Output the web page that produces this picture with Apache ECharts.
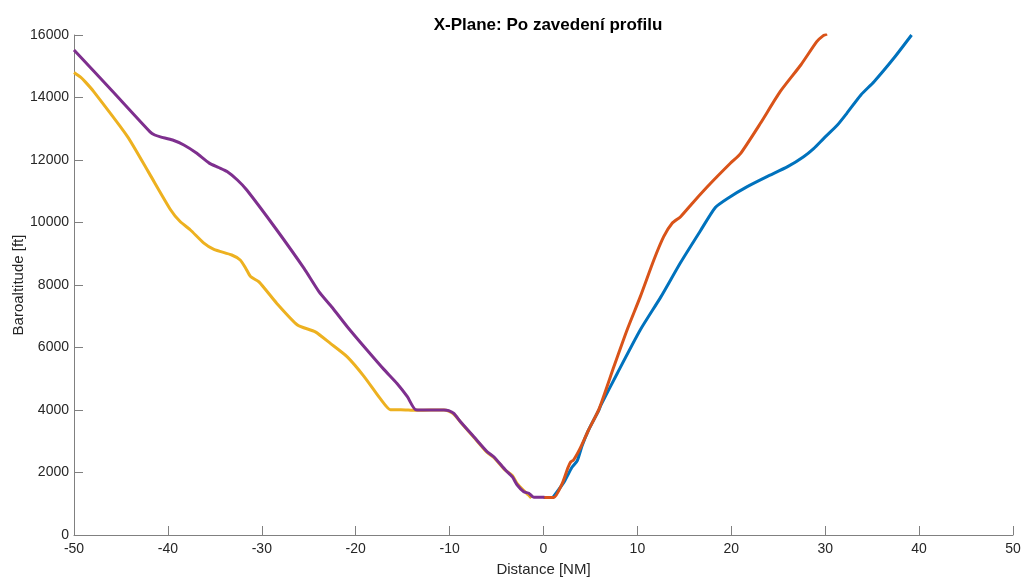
<!DOCTYPE html>
<html>
<head>
<meta charset="utf-8">
<title>X-Plane: Po zavedení profilu</title>
<script src="https://cdn.jsdelivr.net/npm/echarts@6/dist/echarts.min.js"></script>
<style>
  html, body { margin: 0; padding: 0; background: #fff; }
  #chart { width: 1024px; height: 578px; }
</style>
</head>
<body>
<div id="chart"></div>
<script>
// Altitude profiles: [distance NM, baro altitude ft]
const departureA = [
  [1.0, 1200], [2.2, 1700], [3.0, 2150], [3.6, 2380], [4.1, 2850], [4.8, 3360],
  [5.9, 4000], [6.1, 4150], [7.85, 5170], [10.3, 6560], [12.5, 7620], [14.6, 8720],
  [16.7, 9730], [18.3, 10480], [19.6, 10770], [21.7, 11146], [23.8, 11466],
  [26.0, 11786], [27.7, 12106], [28.8, 12374], [29.85, 12694], [31.3, 13120],
  [32.3, 13494], [33.8, 14080], [35.2, 14506], [37.3, 15254], [39.2, 16000]
];
const departureB = [
  [0.0, 1200], [1.1, 1200], [2.0, 1650], [2.6, 2150], [2.9, 2340], [3.2, 2400],
  [3.9, 2770], [4.8, 3360], [5.9, 4020], [7.5, 5390], [8.9, 6560], [10.3, 7620],
  [11.75, 8800], [12.8, 9546], [13.7, 9974], [14.6, 10186], [16.0, 10666],
  [17.8, 11254], [19.9, 11894], [21.0, 12214], [23.1, 13174], [25.2, 14186],
  [27.4, 15040], [29.1, 15786], [29.8, 15980], [30.2, 16030]
];
const arrivalA = [
  [-50, 14800], [-49.3, 14650], [-48.8, 14500], [-47.9, 14190], [-44.3, 12750],
  [-42, 11580], [-39.7, 10400], [-38.7, 10030], [-37.6, 9760],
  [-36.2, 9350], [-35.1, 9140], [-33.2, 8960], [-32.3, 8800], [-31.7, 8530],
  [-31.2, 8270], [-30.3, 8100], [-28.4, 7410], [-26.2, 6720], [-24.3, 6500],
  [-22.7, 6130], [-20.9, 5700], [-19.1, 5070], [-17.4, 4370], [-16.3, 4010],
  [-15.2, 4010], [-13.6, 3990], [-12, 4000], [-10.6, 4000], [-10.1, 3960],
  [-9.5, 3850], [-8.8, 3600], [-7.4, 3120], [-6, 2640], [-5.3, 2480], [-4.1, 2080],
  [-3.3, 1900], [-2.8, 1640], [-2.1, 1420], [-1.6, 1280], [-1.3, 1180]
];
const arrivalB = [
  [-50, 15520], [-45.9, 14200], [-41.9, 12900], [-41.4, 12800], [-40.8, 12740],
  [-39.5, 12640], [-38.3, 12480], [-37, 12230], [-35.6, 11900], [-34.6, 11760],
  [-33.7, 11630], [-32.6, 11360], [-31.6, 11040], [-28.5, 9800], [-25.5, 8530],
  [-23.9, 7780], [-22.5, 7280], [-20.9, 6666], [-18.8, 5920], [-17, 5300],
  [-15.6, 4850], [-14.5, 4426], [-13.6, 4010], [-12, 4000], [-10.6, 4000],
  [-10.1, 3980], [-9.55, 3890], [-8.84, 3626], [-7.42, 3146], [-6.0, 2666],
  [-5.3, 2506], [-4.05, 2080], [-3.33, 1866], [-2.8, 1600], [-2.1, 1386],
  [-1.56, 1334], [-1.03, 1206], [0.1, 1206]
];

const profiles = [
  { name: 'departureA', data: departureA, color: '#0072BD' },
  { name: 'departureB', data: departureB, color: '#D95319' },
  { name: 'arrivalA',   data: arrivalA,   color: '#EDB120' },
  { name: 'arrivalB',   data: arrivalB,   color: '#7E2F8E' }
];

const font = 'Liberation Sans, Arial, Helvetica, sans-serif';
const axisGray = '#808080';
const textGray = '#262626';

const chart = echarts.init(document.getElementById('chart'), null, { renderer: 'canvas' });
chart.setOption({
  animation: false,
  backgroundColor: '#ffffff',
  title: {
    text: 'X-Plane: Po zavedení profilu',
    left: 543, top: 12, textAlign: 'center',
    textStyle: { fontFamily: font, fontSize: 17, fontWeight: 'bold', color: '#000' }
  },
  grid: { left: 74, right: 11, top: 35, bottom: 43, containLabel: false, outerBoundsMode: 'none' },
  xAxis: {
    type: 'value', min: -50, max: 50, interval: 10,
    name: 'Distance [NM]', nameLocation: 'middle', nameGap: 27, nameMoveOverlap: false,
    nameTextStyle: { fontFamily: font, fontSize: 15, color: textGray },
    axisLine: { show: true, onZero: false, lineStyle: { color: axisGray, width: 1 } },
    axisTick: { show: true, inside: true, length: 9, lineStyle: { color: axisGray } },
    axisLabel: { fontFamily: font, fontSize: 14, color: textGray, margin: 7 },
    splitLine: { show: false }
  },
  yAxis: {
    type: 'value', min: 0, max: 16000, interval: 2000,
    name: 'Baroaltitude [ft]', nameLocation: 'middle', nameGap: 48, nameRotate: 90,
    nameMoveOverlap: false,
    nameTextStyle: { fontFamily: font, fontSize: 15, color: textGray },
    axisLine: { show: true, onZero: false, lineStyle: { color: axisGray, width: 1 } },
    axisTick: { show: true, inside: true, length: 9, lineStyle: { color: axisGray } },
    axisLabel: {
      fontFamily: font, fontSize: 14, color: textGray, margin: 5,
      formatter: v => String(v)
    },
    splitLine: { show: false }
  },
  series: profiles.map(p => ({
    name: p.name,
    type: 'line',
    data: p.data,
    showSymbol: false,
    symbol: 'none',
    smooth: 0.2,
    clip: true,
    lineStyle: { color: p.color, width: 3 },
    itemStyle: { color: p.color }
  }))
});
</script>
</body>
</html>
